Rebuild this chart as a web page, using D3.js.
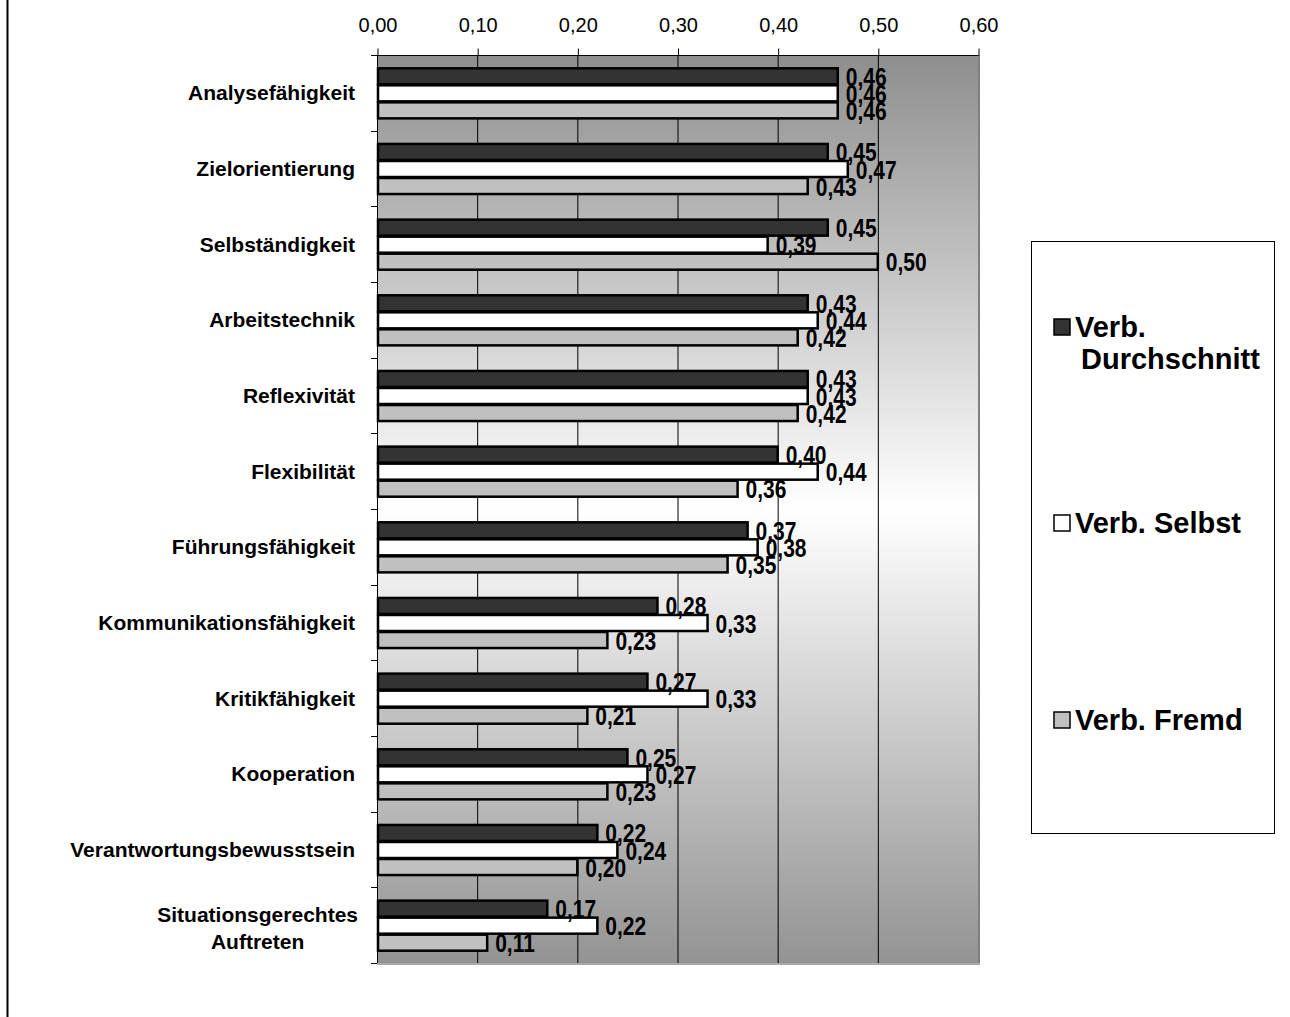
<!DOCTYPE html>
<html>
<head>
<meta charset="utf-8">
<script src="https://cdn.jsdelivr.net/npm/d3@7"></script>
<style>
  html, body { margin: 0; padding: 0; background: #ffffff; }
  svg { display: block; }
</style>
</head>
<body>
<svg id="chart" width="1290" height="1017"></svg>
<script>
// Competence categories, top to bottom
const categories = [
  "Analysefähigkeit",
  "Zielorientierung",
  "Selbständigkeit",
  "Arbeitstechnik",
  "Reflexivität",
  "Flexibilität",
  "Führungsfähigkeit",
  "Kommunikationsfähigkeit",
  "Kritikfähigkeit",
  "Kooperation",
  "Verantwortungsbewusstsein",
  "Situationsgerechtes Auftreten"
];

// Series names as shown in the legend
const seriesNames = ["Verb. Durchschnitt", "Verb. Selbst", "Verb. Fremd"];

// Values per series, in category order
const durchschnitt = [0.46, 0.45, 0.45, 0.43, 0.43, 0.40, 0.37, 0.28, 0.27, 0.25, 0.22, 0.17];
const selbst       = [0.46, 0.47, 0.39, 0.44, 0.43, 0.44, 0.38, 0.33, 0.33, 0.27, 0.24, 0.22];
const fremd        = [0.46, 0.43, 0.50, 0.42, 0.42, 0.36, 0.35, 0.23, 0.21, 0.23, 0.20, 0.11];

// Axis tick values
const xTicks = [0, 0.1, 0.2, 0.3, 0.4, 0.5, 0.6];

const seriesValues = [durchschnitt, selbst, fremd];
const seriesFill = ["#333333", "#ffffff", "#c0c0c0"];

const svg = d3.select("#chart");
const plotL = 377, plotR = 978, plotT = 55, plotB = 963;

const x = d3.scaleLinear().domain([0, 0.6]).range([plotL, plotR]);
const y = d3.scaleBand().domain(categories).range([plotT, plotB])
  .paddingInner(0.325).paddingOuter(0.1625);
const ySub = d3.scaleBand().domain(seriesNames).range([0, y.bandwidth()]);

const fmt = v => d3.format(".2f")(v).replace(".", ",");

// Chart area border (left edge)
svg.append("line")
  .attr("x1", 7.5).attr("x2", 7.5).attr("y1", 0).attr("y2", 1017)
  .attr("stroke", "#000").attr("stroke-width", 2);

// Plot area background: dark at top and bottom, white in the middle
const defs = svg.append("defs");
const grad = defs.append("linearGradient")
  .attr("id", "plotBg").attr("x1", 0).attr("x2", 0).attr("y1", 0).attr("y2", 1);
grad.append("stop").attr("offset", "0%").attr("stop-color", "#8e8e8e");
grad.append("stop").attr("offset", "50%").attr("stop-color", "#ffffff");
grad.append("stop").attr("offset", "100%").attr("stop-color", "#939393");

svg.append("rect")
  .attr("x", plotL).attr("y", plotT)
  .attr("width", plotR - plotL).attr("height", plotB - plotT)
  .attr("fill", "url(#plotBg)");

// Vertical gridlines
svg.append("g").selectAll("line")
  .data(xTicks.slice(1, -1))
  .join("line")
  .attr("x1", d => x(d) + 0.5).attr("x2", d => x(d) + 0.5)
  .attr("y1", plotT).attr("y2", plotB)
  .attr("stroke", "#000").attr("stroke-width", 1);

// Plot area edges on the right and bottom
svg.append("line")
  .attr("x1", plotR + 1).attr("x2", plotR + 1).attr("y1", plotT).attr("y2", plotB + 1)
  .attr("stroke", "#7f7f7f").attr("stroke-width", 2);
svg.append("line")
  .attr("x1", plotL).attr("x2", plotR + 2).attr("y1", plotB + 1).attr("y2", plotB + 1)
  .attr("stroke", "#a8a8a8").attr("stroke-width", 2);

// Top value axis
const xAxis = d3.axisTop(x).tickValues(xTicks).tickFormat(fmt)
  .tickSize(7).tickSizeOuter(0).tickPadding(17);
const gx = svg.append("g").attr("transform", `translate(0.5,${plotT + 0.5})`).call(xAxis);
gx.select(".domain").attr("stroke", "#000").attr("stroke-width", 1)
  .attr("d", `M${plotL - 6},0H${plotR}`);
gx.selectAll(".tick line").attr("stroke", "#000");
gx.selectAll(".tick text")
  .attr("font-family", "Liberation Sans, Arial, sans-serif")
  .attr("font-size", 20).attr("fill", "#000");

// Left category axis: line and boundary ticks
svg.append("line")
  .attr("x1", plotL + 0.5).attr("x2", plotL + 0.5).attr("y1", plotT).attr("y2", plotB)
  .attr("stroke", "#000").attr("stroke-width", 1);
const step = y.step();
svg.append("g").selectAll("line")
  .data(d3.range(categories.length + 1))
  .join("line")
  .attr("x1", plotL - 6).attr("x2", plotL)
  .attr("y1", i => Math.round(plotT + i * step) + 0.5)
  .attr("y2", i => Math.round(plotT + i * step) + 0.5)
  .attr("stroke", "#000");

// Bars
const groups = svg.append("g").selectAll("g")
  .data(categories.map((c, i) => ({ c, i })))
  .join("g")
  .attr("transform", d => `translate(0,${y(d.c)})`);

seriesNames.forEach((s, si) => {
  groups.append("rect")
    .attr("x", plotL + 1)
    .attr("y", ySub(s) + 1)
    .attr("width", d => x(seriesValues[si][d.i]) - plotL - 1)
    .attr("height", ySub.bandwidth() - 1)
    .attr("fill", seriesFill[si])
    .attr("stroke", "#000").attr("stroke-width", 2.5);
});

// Value labels (narrow bold figures)
seriesNames.forEach((s, si) => {
  groups.append("text")
    .attr("transform", d =>
      `translate(${x(seriesValues[si][d.i]) + 8},${ySub(s) + ySub.bandwidth() / 2 + 1}) scale(0.84,1)`)
    .attr("dy", "0.36em")
    .attr("font-family", "Liberation Sans Narrow, Arial Narrow, Liberation Sans, sans-serif")
    .attr("font-weight", "bold")
    .attr("font-size", 25)
    .attr("fill", "#000")
    .text(d => fmt(seriesValues[si][d.i]));
});

// Category labels
const catLabelX = 355;
const catFont = 21;
categories.forEach(c => {
  const cy = y(c) + y.bandwidth() / 2;
  const words = c === "Situationsgerechtes Auftreten" ? ["Situationsgerechtes", "Auftreten"] : [c];
  if (words.length === 1) {
    svg.append("text")
      .attr("x", catLabelX).attr("y", cy).attr("dy", "0.36em")
      .attr("text-anchor", "end")
      .attr("font-family", "Liberation Sans, Arial, sans-serif")
      .attr("font-weight", "bold").attr("font-size", catFont)
      .text(c);
  } else {
    const t1 = svg.append("text")
      .attr("x", catLabelX + 3).attr("y", cy - 11).attr("dy", "0.36em")
      .attr("text-anchor", "end")
      .attr("font-family", "Liberation Sans, Arial, sans-serif")
      .attr("font-weight", "bold").attr("font-size", catFont)
      .text(words[0]);
    const w1 = t1.node().getComputedTextLength();
    svg.append("text")
      .attr("x", catLabelX + 3 - w1 / 2).attr("y", cy + 16).attr("dy", "0.36em")
      .attr("text-anchor", "middle")
      .attr("font-family", "Liberation Sans, Arial, sans-serif")
      .attr("font-weight", "bold").attr("font-size", catFont)
      .text(words[1]);
  }
});

// Legend
const legend = svg.append("g");
legend.append("rect")
  .attr("x", 1031.5).attr("y", 241.5).attr("width", 243).attr("height", 592)
  .attr("fill", "#fff").attr("stroke", "#000").attr("stroke-width", 1);

const legendRows = [
  { lines: ["Verb.", "Durchschnitt"], y: 327 },
  { lines: ["Verb. Selbst"], y: 523 },
  { lines: ["Verb. Fremd"], y: 720 }
];
legendRows.forEach((row, i) => {
  legend.append("rect")
    .attr("x", 1054).attr("y", row.y - 8).attr("width", 16).attr("height", 16)
    .attr("fill", seriesFill[i]).attr("stroke", "#000").attr("stroke-width", 1.5);
  row.lines.forEach((ln, li) => {
    legend.append("text")
      .attr("x", li === 0 ? 1075 : 1081).attr("y", row.y + li * 32).attr("dy", "0.36em")
      .attr("font-family", "Liberation Sans, Arial, sans-serif")
      .attr("font-weight", "bold").attr("font-size", 29)
      .text(ln);
  });
});
</script>
</body>
</html>
